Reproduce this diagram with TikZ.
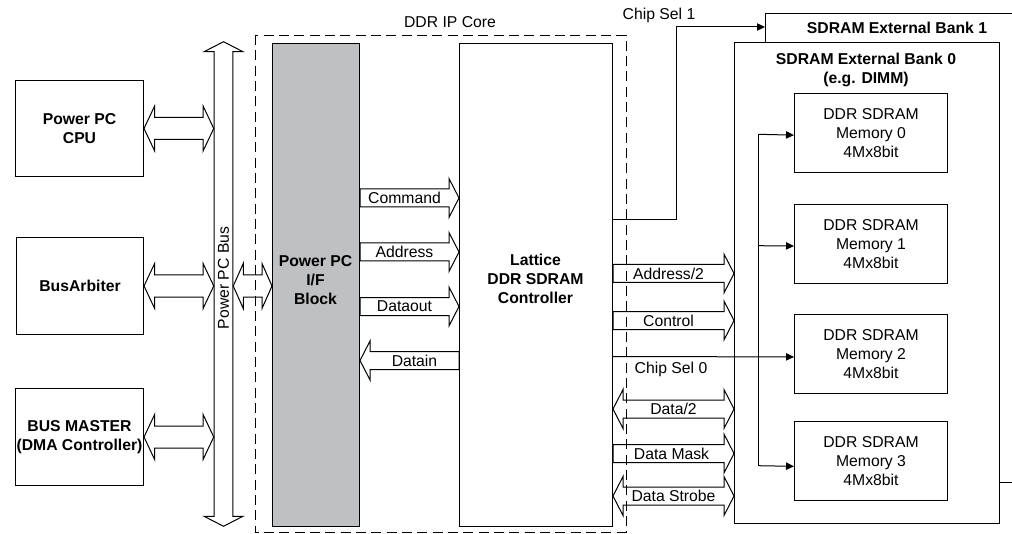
\documentclass[tikz,border=0pt]{standalone}
\usepackage{fontspec}
\setmainfont{Liberation Sans}
\usetikzlibrary{calc,arrows.meta}
\definecolor{ifgray}{RGB}{191,192,194}
\newcommand\txt{\fontsize{11.8}{14.3}\selectfont}
% horizontal double arrow from #1 to #2 (y of #1); #3 shaft half, #4 head half, #5 head length
\newcommand\hdbl[5]{\draw[blk] let \p1=#1, \p2=#2 in
  (\x1,\y1) -- (\x1+#5,\y1+#4) -- (\x1+#5,\y1+#3) -- (\x2-#5,\y1+#3) -- (\x2-#5,\y1+#4) -- (\x2,\y1)
  -- (\x2-#5,\y1-#4) -- (\x2-#5,\y1-#3) -- (\x1+#5,\y1-#3) -- (\x1+#5,\y1-#4) -- cycle;}
% single arrow from #1 (tail) to #2 (tip), horizontal, either direction
\newcommand\hsgl[5]{\draw[blk] let \p1=#1, \p2=#2, \n1={sign(\x2-\x1)} in
  (\x1,\y1+#3) -- (\x2-\n1*#5,\y1+#3) -- (\x2-\n1*#5,\y1+#4) -- (\x2,\y1)
  -- (\x2-\n1*#5,\y1-#4) -- (\x2-\n1*#5,\y1-#3) -- (\x1,\y1-#3) -- cycle;}
\tikzset{
  every node/.style={font=\txt, inner sep=0pt, align=center},
  box/.style={draw, line width=0.75pt, fill=white, anchor=north west},
  sz/.style 2 args={minimum width=#1*0.75pt, minimum height=#2*0.75pt},
  blk/.style={draw, line width=0.75pt, line join=miter},
  bf/.style={font=\txt\bfseries},
  sig/.style={draw, line width=0.75pt, -{Triangle[length=6pt,width=5.5pt]}},
  wire/.style={draw, line width=0.75pt},
  core/.style={draw, line width=0.65pt, dash pattern=on 7.5pt off 4pt},
}
\begin{document}
\begin{tikzpicture}[x=0.75pt,y=-0.75pt]
\useasboundingbox (0,0) rectangle (1012,534);
\clip (0,0) rectangle (1012,534);

% left boxes
\node[box, sz={128}{96}, bf] (cpu) at (15,80) {Power PC\\CPU};
\node[box, sz={127}{97}, bf] (arb) at (16,237) {BusArbiter};
\node[box, sz={128}{97}, bf] (dma) at (15,388) {BUS MASTER\\(DMA Controller)};

% Power PC bus
\node[sz={19}{464}] (bus) at (223.5,284) {};
\draw[blk] let \p1=(bus.north), \p2=(bus.south) in
  (\x1,\y1+7.5pt) -- (\x1+14.6pt,\y1) -- (\x1+7.1pt,\y1) -- (\x1+7.1pt,\y2) -- (\x1+14.6pt,\y2)
  -- (\x1,\y2-7.5pt) -- (\x1-14.6pt,\y2) -- (\x1-7.1pt,\y2) -- (\x1-7.1pt,\y1) -- (\x1-14.6pt,\y1) -- cycle;
\node[rotate=90] (buslbl) at (223.5,278) {Power PC Bus};

% DDR IP core
\draw[core] (255,35) rectangle (626,532);
\node (corelbl) at (450,22) {DDR IP Core};

% I/F block and controller
\node[box, sz={87}{483}, fill=ifgray] (ifb) at (272,43) {};
\node[bf] (ifbtxt) at (315.5,280) {Power PC\\I/F\\Block};
\node[box, sz={153}{483}] (ctrl) at (459,43) {};
\node[bf] (ctrltxt) at (535.5,279) {Lattice\\DDR SDRAM\\Controller};

% external banks
\node[box, sz={265}{469}] (bank1) at (765,13) {};
\node[bf] (bank1lbl) at (897,28) {SDRAM External Bank 1};
\node[box, sz={265}{481}] (bank0) at (734,42) {};
\node[bf] (bank0lbl) at (866,70) {SDRAM External Bank 0\\(e.g. DIMM)};

\node[box, sz={153}{79}] (mem0) at (794,93) {DDR SDRAM\\Memory 0\\4Mx8bit};
\node[box, sz={153}{79}] (mem1) at (794,204) {DDR SDRAM\\Memory 1\\4Mx8bit};
\node[box, sz={153}{79}] (mem2) at (794,314) {DDR SDRAM\\Memory 2\\4Mx8bit};
\node[box, sz={153}{79}] (mem3) at (794,421) {DDR SDRAM\\Memory 3\\4Mx8bit};

% y levels
\coordinate (yBI) at (0,286);
\coordinate (yCmd) at (0,198);
\coordinate (yAdr) at (0,252);
\coordinate (yDo) at (0,306.5);
\coordinate (yDi) at (0,360.5);
\coordinate (yA2) at (0,273.5);
\coordinate (yCtl) at (0,320.5);
\coordinate (yD2) at (0,409);
\coordinate (yDM) at (0,453.5);
\coordinate (yDS) at (0,496);
\coordinate (yCS1) at (0,220);
\coordinate (cs1) at (676,27);
\coordinate (fan) at (758,0);

% bus connections
\hdbl{(cpu.east)}{(cpu.east -| bus.west)}{8.25pt}{16.9pt}{8pt}
\hdbl{(arb.east)}{(arb.east -| bus.west)}{8.25pt}{16.9pt}{8pt}
\hdbl{(dma.east)}{(dma.east -| bus.west)}{8.25pt}{16.9pt}{8pt}
\hdbl{(bus.east |- yBI)}{(ifb.west |- yBI)}{8.25pt}{16.9pt}{7.5pt}

% I/F <-> controller
\hsgl{(ifb.east |- yCmd)}{(ctrl.west |- yCmd)}{6.75pt}{14.6pt}{7.5pt}
\hsgl{(ifb.east |- yAdr)}{(ctrl.west |- yAdr)}{6.75pt}{14.6pt}{7.5pt}
\hsgl{(ifb.east |- yDo)}{(ctrl.west |- yDo)}{6.75pt}{14.6pt}{7.5pt}
\hsgl{(ctrl.west |- yDi)}{(ifb.east |- yDi)}{6.75pt}{14.6pt}{7.5pt}
\node (lcmd) at ($(ifb.east |- yCmd)!0.5!(ctrl.west |- yCmd)+(-5,0)$) {Command};
\node (ladr) at ($(ifb.east |- yAdr)!0.5!(ctrl.west |- yAdr)+(-5,0)$) {Address};
\node (ldo) at ($(ifb.east |- yDo)!0.5!(ctrl.west |- yDo)+(-5,0)$) {Dataout};
\node (ldi) at ($(ifb.east |- yDi)!0.5!(ctrl.west |- yDi)+(5,0)$) {Datain};

% controller <-> bank 0
\hsgl{(ctrl.east |- yA2)}{(bank0.west |- yA2)}{6.75pt}{14.6pt}{7.5pt}
\hsgl{(ctrl.east |- yCtl)}{(bank0.west |- yCtl)}{6.75pt}{14.6pt}{7.5pt}
\hdbl{(ctrl.east |- yD2)}{(bank0.west |- yD2)}{6.75pt}{14.6pt}{7.5pt}
\hsgl{(ctrl.east |- yDM)}{(bank0.west |- yDM)}{6.75pt}{14.6pt}{7.5pt}
\hdbl{(ctrl.east |- yDS)}{(bank0.west |- yDS)}{6.75pt}{14.6pt}{7.5pt}
\node (la2) at ($(ctrl.east |- yA2)!0.5!(bank0.west |- yA2)+(-5,0)$) {Address/2};
\node (lctl) at ($(ctrl.east |- yCtl)!0.5!(bank0.west |- yCtl)+(-5,0)$) {Control};
\node (ld2) at ($(ctrl.east |- yD2)!0.5!(bank0.west |- yD2)$) {Data/2};
\node (ldm) at ($(ctrl.east |- yDM)!0.5!(bank0.west |- yDM)+(-2,0)$) {Data Mask};
\node (lds) at ($(ctrl.east |- yDS)!0.5!(bank0.west |- yDS)$) {Data Strobe};

% chip selects
\draw[sig] (ctrl.east |- yCS1) -| (cs1) -- (bank1.west |- cs1);
\node (lcs1) at (659,15) {Chip Sel 1};
\draw[sig] (ctrl.east |- 0,356.5) -- ([yshift=-2.2pt]mem2.west);
\node (lcs0) at (671,369) {Chip Sel 0};
\draw[wire] (fan |- 0,134.3) -- (fan |- 0,465.7);
\draw[sig] (fan |- 0,134.3) -- ([yshift=-1.6pt]mem0.west);
\draw[sig] (fan |- 0,245.7) -- ([yshift=-1.5pt]mem1.west);
\draw[sig] (fan |- 0,465.7) -- ([yshift=-4pt]mem3.west);
\end{tikzpicture}
\end{document}
